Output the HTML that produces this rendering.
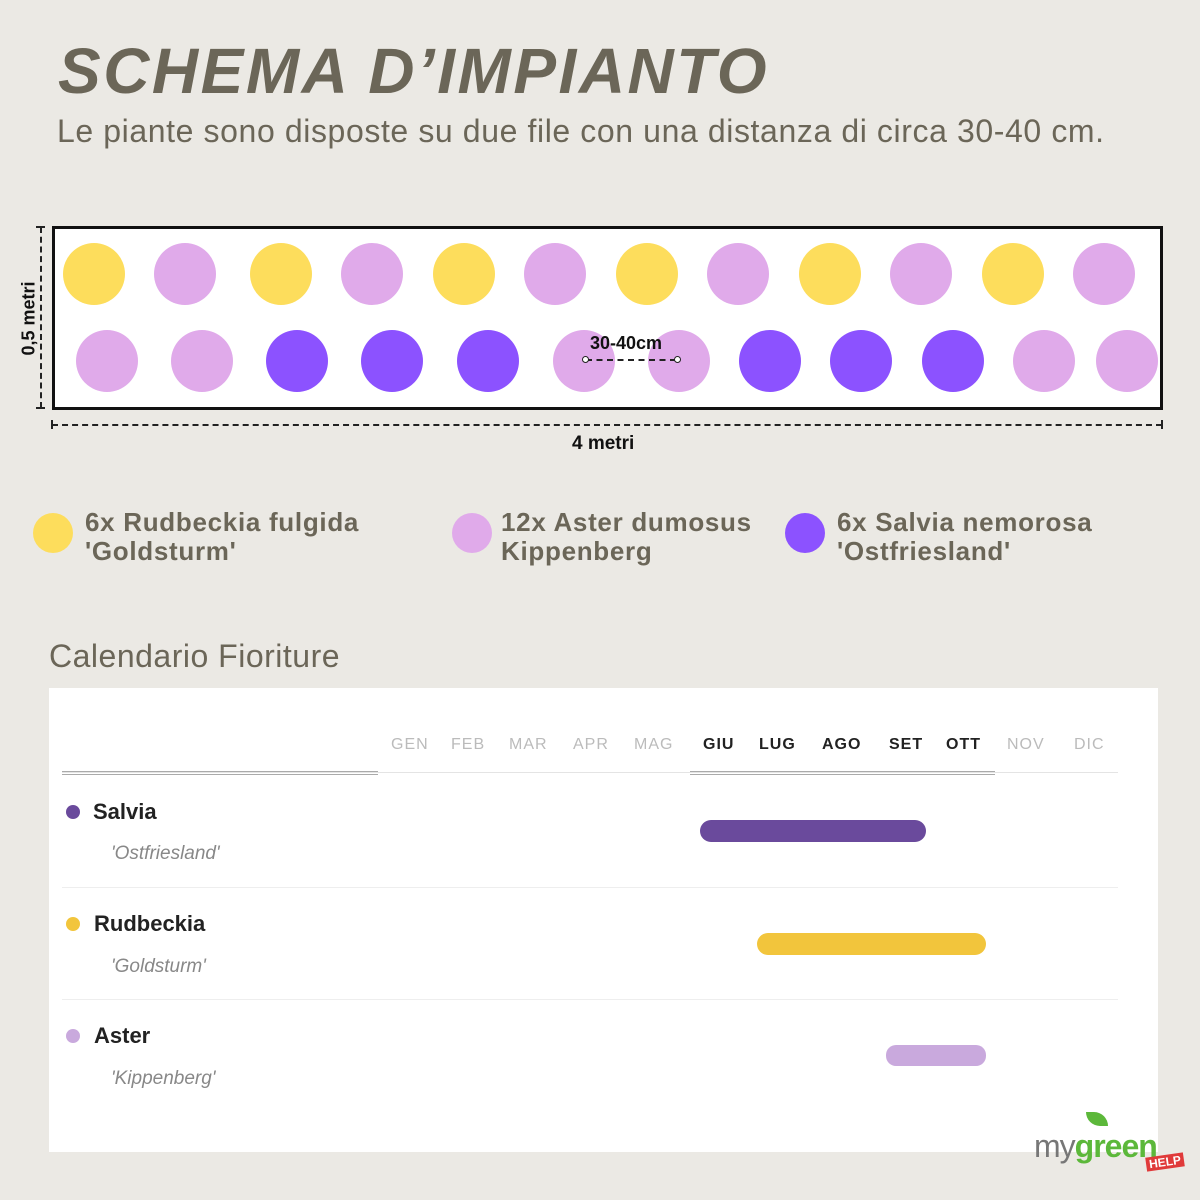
<!DOCTYPE html>
<html><head><meta charset="utf-8"><style>
body{margin:0;width:1200px;height:1200px;background:#ebe9e4;font-family:"Liberation Sans",sans-serif;position:relative;overflow:hidden}
.a{position:absolute}
.c{position:absolute;width:62px;height:62px;border-radius:50%;margin:-31px 0 0 -31px}
.y{background:#fddd5c}.p{background:#e0aaea}.v{background:#8c52ff}
.m{position:absolute;top:736px;font-size:16px;letter-spacing:1px;color:#bbb}
.mb{color:#222;font-weight:bold}
</style></head><body>
<div class="a" style="left:58px;top:34px;font-size:64px;font-weight:bold;font-style:italic;color:#6b6658;letter-spacing:2.5px">SCHEMA D’IMPIANTO</div>
<div class="a" style="left:57px;top:113px;font-size:32px;color:#6b6658;letter-spacing:0.6px">Le piante sono disposte su due file con una distanza di circa 30-40 cm.</div>
<div class="a" style="left:52px;top:226px;width:1105px;height:178px;border:3px solid #111;background:#fff"></div>
<div class="c y" style="left:94px;top:274px"></div><div class="c p" style="left:185px;top:274px"></div>
<div class="c y" style="left:281px;top:274px"></div><div class="c p" style="left:372px;top:274px"></div>
<div class="c y" style="left:464px;top:274px"></div><div class="c p" style="left:555px;top:274px"></div>
<div class="c y" style="left:647px;top:274px"></div><div class="c p" style="left:738px;top:274px"></div>
<div class="c y" style="left:830px;top:274px"></div><div class="c p" style="left:921px;top:274px"></div>
<div class="c y" style="left:1013px;top:274px"></div><div class="c p" style="left:1104px;top:274px"></div>
<div class="c p" style="left:107px;top:361px"></div><div class="c p" style="left:202px;top:361px"></div>
<div class="c v" style="left:297px;top:361px"></div><div class="c v" style="left:392px;top:361px"></div>
<div class="c v" style="left:488px;top:361px"></div><div class="c p" style="left:584px;top:361px"></div>
<div class="c p" style="left:679px;top:361px"></div><div class="c v" style="left:770px;top:361px"></div>
<div class="c v" style="left:861px;top:361px"></div><div class="c v" style="left:953px;top:361px"></div>
<div class="c p" style="left:1044px;top:361px"></div><div class="c p" style="left:1127px;top:361px"></div>
<div class="a" style="left:590px;top:333px;font-size:18px;font-weight:bold;color:#111">30-40cm</div>
<div class="a" style="left:586px;top:359px;width:90px;border-top:2px dashed #222"></div>
<div class="a" style="left:582px;top:356px;width:5px;height:5px;border:1.5px solid #222;border-radius:50%;background:#fff"></div>
<div class="a" style="left:674px;top:356px;width:5px;height:5px;border:1.5px solid #222;border-radius:50%;background:#fff"></div>
<div class="a" style="left:40px;top:227px;height:181px;border-left:2px dashed #222"></div>
<div class="a" style="left:36px;top:226px;width:9px;border-top:2px solid #222"></div>
<div class="a" style="left:36px;top:407px;width:9px;border-top:2px solid #222"></div>
<div class="a" style="left:-26px;top:308px;font-size:18px;font-weight:bold;color:#111;transform:rotate(-90deg);width:110px;text-align:center">0,5 metri</div>
<div class="a" style="left:52px;top:424px;width:1110px;border-top:2px dashed #222"></div>
<div class="a" style="left:51px;top:420px;height:9px;border-left:2px solid #222"></div>
<div class="a" style="left:1161px;top:420px;height:9px;border-left:2px solid #222"></div>
<div class="a" style="left:572px;top:433px;font-size:19px;font-weight:bold;color:#111">4 metri</div>
<div class="a y" style="left:33px;top:513px;width:40px;height:40px;border-radius:50%"></div>
<div class="a p" style="left:452px;top:513px;width:40px;height:40px;border-radius:50%"></div>
<div class="a v" style="left:785px;top:513px;width:40px;height:40px;border-radius:50%"></div>
<div class="a" style="left:85px;top:508px;font-size:26px;font-weight:bold;color:#6b6658;line-height:29px;letter-spacing:0.7px">6x Rudbeckia fulgida<br>'Goldsturm'</div>
<div class="a" style="left:501px;top:508px;font-size:26px;font-weight:bold;color:#6b6658;line-height:29px;letter-spacing:0.7px">12x Aster dumosus<br>Kippenberg</div>
<div class="a" style="left:837px;top:508px;font-size:26px;font-weight:bold;color:#6b6658;line-height:29px;letter-spacing:0.7px">6x Salvia nemorosa<br>'Ostfriesland'</div>
<div class="a" style="left:49px;top:638px;font-size:32px;color:#6b6658;letter-spacing:0.5px">Calendario Fioriture</div>
<div class="a" style="left:49px;top:688px;width:1109px;height:464px;background:#fff"></div>
<div class="m" style="left:391px">GEN</div><div class="m" style="left:451px">FEB</div><div class="m" style="left:509px">MAR</div><div class="m" style="left:573px">APR</div><div class="m" style="left:634px">MAG</div>
<div class="m mb" style="left:703px">GIU</div><div class="m mb" style="left:759px">LUG</div><div class="m mb" style="left:822px">AGO</div><div class="m mb" style="left:889px">SET</div><div class="m mb" style="left:946px">OTT</div>
<div class="m" style="left:1007px">NOV</div><div class="m" style="left:1074px">DIC</div>
<div class="a" style="left:62px;top:772px;width:1056px;border-top:1px solid #e4e4e4"></div>
<div class="a" style="left:62px;top:771px;width:316px;height:2px;border-top:1px solid #aaa;border-bottom:1px solid #aaa"></div>
<div class="a" style="left:690px;top:771px;width:305px;height:2px;border-top:1px solid #aaa;border-bottom:1px solid #aaa"></div>
<div class="a" style="left:62px;top:887px;width:1056px;border-top:1px solid #eee"></div>
<div class="a" style="left:62px;top:999px;width:1056px;border-top:1px solid #eee"></div>
<div class="a" style="left:66px;top:805px;width:14px;height:14px;border-radius:50%;background:#6a4a9c"></div>
<div class="a" style="left:66px;top:917px;width:14px;height:14px;border-radius:50%;background:#f2c53c"></div>
<div class="a" style="left:66px;top:1029px;width:14px;height:14px;border-radius:50%;background:#c9a9dd"></div>
<div class="a" style="left:93px;top:799px;font-size:22px;font-weight:bold;color:#222">Salvia</div>
<div class="a" style="left:94px;top:911px;font-size:22px;font-weight:bold;color:#222">Rudbeckia</div>
<div class="a" style="left:94px;top:1023px;font-size:22px;font-weight:bold;color:#222">Aster</div>
<div class="a" style="left:111px;top:843px;font-size:19px;font-style:italic;color:#888">'Ostfriesland'</div>
<div class="a" style="left:111px;top:956px;font-size:19px;font-style:italic;color:#888">'Goldsturm'</div>
<div class="a" style="left:111px;top:1068px;font-size:19px;font-style:italic;color:#888">'Kippenberg'</div>
<div class="a" style="left:700px;top:820px;width:226px;height:22px;border-radius:11px;background:#6a4a9c"></div>
<div class="a" style="left:757px;top:933px;width:229px;height:22px;border-radius:11px;background:#f2c53c"></div>
<div class="a" style="left:886px;top:1045px;width:100px;height:21px;border-radius:10px;background:#c9a9dd"></div>
<div class="a" style="left:1034px;top:1128px;font-size:32px;color:#777;letter-spacing:-1px">my<span style="color:#5cb83a;font-weight:bold">green</span></div>
<div class="a" style="left:1146px;top:1155px;font-size:12px;font-weight:bold;color:#fff;background:#e03a3a;padding:0 3px;transform:rotate(-8deg)">HELP</div>
<div class="a" style="left:1086px;top:1112px;width:22px;height:14px;border-radius:0 14px 0 14px;background:#5cb83a"></div>
</body></html>
